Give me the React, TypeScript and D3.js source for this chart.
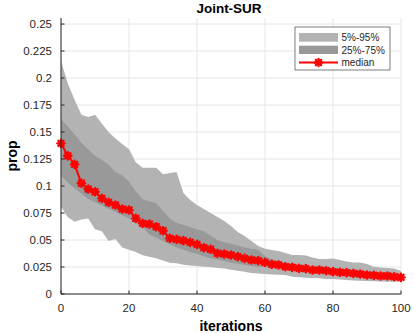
import React from "react";
import * as d3 from "d3";

const iterations = d3.range(0, 101, 2);
const median = [0.1395, 0.128, 0.12, 0.1025, 0.0972, 0.0947, 0.0886, 0.0849, 0.0824, 0.0787,
  0.0778, 0.07, 0.0654, 0.0648, 0.0623, 0.0586, 0.0515, 0.0506, 0.0494, 0.0478,
  0.046, 0.0429, 0.0414, 0.0377, 0.037, 0.0361, 0.0346, 0.033, 0.0315, 0.0309,
  0.0293, 0.0275, 0.0269, 0.0253, 0.0247, 0.0238, 0.0235, 0.0222, 0.0222, 0.0216,
  0.0207, 0.0201, 0.0198, 0.0191, 0.0185, 0.0176, 0.0173, 0.0167, 0.0167, 0.016, 0.0154];
const q95 = [0.216, 0.195, 0.18, 0.166, 0.164, 0.166, 0.158, 0.15, 0.144, 0.139,
  0.134, 0.122, 0.117, 0.117, 0.117, 0.111, 0.112, 0.113, 0.0935, 0.087,
  0.0824, 0.0787, 0.075, 0.0713, 0.0676, 0.063, 0.0574, 0.0537, 0.049, 0.0444,
  0.042, 0.0407, 0.0398, 0.038, 0.0361, 0.0361, 0.0356, 0.0338, 0.0324, 0.0324,
  0.0329, 0.0315, 0.0301, 0.0292, 0.0292, 0.0278, 0.0253, 0.0245, 0.0241, 0.0236, 0.0213];
const q75 = [0.162, 0.155, 0.148, 0.14, 0.134, 0.128, 0.124, 0.12, 0.113, 0.11,
  0.104, 0.095, 0.088, 0.086, 0.084, 0.077, 0.07, 0.066, 0.064, 0.062,
  0.06, 0.058, 0.054, 0.05, 0.048, 0.0465, 0.045, 0.043, 0.042, 0.041,
  0.035, 0.032, 0.031, 0.029, 0.028, 0.027, 0.026, 0.025, 0.0245, 0.024,
  0.023, 0.0225, 0.022, 0.0215, 0.021, 0.0202, 0.0198, 0.0192, 0.019, 0.0185, 0.018];
const q25 = [0.11, 0.103, 0.098, 0.093, 0.088, 0.085, 0.082, 0.079, 0.076, 0.073,
  0.07, 0.066, 0.062, 0.055, 0.052, 0.049, 0.046, 0.043, 0.041, 0.039,
  0.037, 0.035, 0.033, 0.032, 0.0305, 0.029, 0.028, 0.027, 0.026, 0.025,
  0.025, 0.0245, 0.024, 0.0228, 0.0222, 0.0213, 0.021, 0.0198, 0.0197, 0.0192,
  0.0183, 0.0177, 0.0174, 0.0167, 0.0162, 0.0153, 0.015, 0.0145, 0.0144, 0.0138, 0.0132];
const q05 = [0.081, 0.071, 0.067, 0.069, 0.07, 0.06, 0.058, 0.049, 0.051, 0.043,
  0.041, 0.039, 0.036, 0.0346, 0.033, 0.031, 0.029, 0.0285, 0.027, 0.0265,
  0.026, 0.0253, 0.025, 0.024, 0.0235, 0.0225, 0.0215, 0.0205, 0.0195, 0.019,
  0.0185, 0.018, 0.0178, 0.0176, 0.016, 0.0155, 0.015, 0.0148, 0.0145, 0.014,
  0.0138, 0.0135, 0.013, 0.0125, 0.0122, 0.012, 0.0118, 0.0115, 0.0114, 0.0114, 0.0114];

const xTicks = [0, 20, 40, 60, 80, 100];
const yTicks = [0, 0.025, 0.05, 0.075, 0.1, 0.125, 0.15, 0.175, 0.2, 0.225, 0.25];
const legendLabels = ["5%-95%", "25%-75%", "median"];
const title = "Joint-SUR";
const xLabel = "iterations";
const yLabel = "prop";

const FONT = "'Liberation Sans', Arial, Helvetica, sans-serif";
const LIGHT = "#b3b3b3";
const DARK = "#999999";
const AX = "#262626";

export default function App() {
  const W = 414, H = 333;
  const x = d3.scaleLinear().domain([0, 100]).range([61, 401]);
  const y = d3.scaleLinear().domain([0, 0.2556]).range([294, 18]);

  const idx = d3.range(iterations.length);
  const band = (lo: number[], hi: number[]) =>
    d3.area<number>().x(i => x(iterations[i])).y0(i => y(lo[i])).y1(i => y(hi[i]))(idx) || "";
  const line = d3.line<number>().x(i => x(iterations[i])).y(i => y(median[i]))(idx) || "";

  const star = (cx: number, cy: number, key: any) => {
    const r = 3.6, d = 2.6;
    return (
      <g key={key} stroke="#ff0000" strokeWidth={2.4} strokeLinecap="round">
        <line x1={cx - r} y1={cy} x2={cx + r} y2={cy} />
        <line x1={cx} y1={cy - r} x2={cx} y2={cy + r} />
        <line x1={cx - d} y1={cy - d} x2={cx + d} y2={cy + d} />
        <line x1={cx - d} y1={cy + d} x2={cx + d} y2={cy - d} />
      </g>
    );
  };

  const [x0, x1] = x.range();
  const [yb, yt] = y.range();

  const lgX = 295, lgY = 27, lgW = 95, lgH = 43;

  return (
    <svg width={W} height={H} style={{ position: "absolute", left: 0, top: 0 }} fontFamily={FONT}>
      <rect width={W} height={H} fill="#fff" />
      {xTicks.map(t => (
        <line key={"gx" + t} x1={x(t)} x2={x(t)} y1={yt} y2={yb} stroke="#e6e6e6" strokeWidth={1} />
      ))}
      {yTicks.map(t => (
        <line key={"gy" + t} x1={x0} x2={x1} y1={y(t)} y2={y(t)} stroke="#e6e6e6" strokeWidth={1} />
      ))}
      <path d={band(q05, q95)} fill={LIGHT} stroke="none" />
      <path d={band(q25, q75)} fill={DARK} stroke="none" />
      <path d={line} fill="none" stroke="#ff0000" strokeWidth={2} />
      {idx.map(i => star(x(iterations[i]), y(median[i]), i))}
      <line x1={x0} x2={x0} y1={yt} y2={yb} stroke={AX} strokeWidth={1} />
      <line x1={x0} x2={x1} y1={yb} y2={yb} stroke={AX} strokeWidth={1} />
      {yTicks.map(t => (
        <g key={"ty" + t}>
          <line x1={x0} x2={x0 + 3.5} y1={y(t)} y2={y(t)} stroke={AX} />
          <text x={52} y={y(t)} dy="0.35em" textAnchor="end" fontSize={11.5} fill={AX}>{String(t)}</text>
        </g>
      ))}
      {xTicks.map(t => (
        <g key={"tx" + t}>
          <line x1={x(t)} x2={x(t)} y1={yb} y2={yb - 3.5} stroke={AX} />
          <text x={x(t)} y={312} textAnchor="middle" fontSize={11.5} fill={AX}>{String(t)}</text>
        </g>
      ))}
      <text x={229} y={12.5} textAnchor="middle" fontSize={13.5} fontWeight="bold" fill="#000">{title}</text>
      <text x={231} y={331} textAnchor="middle" fontSize={14} fontWeight="bold" fill="#000">{xLabel}</text>
      <text transform={`translate(17,${(yt + yb) / 2}) rotate(-90)`} textAnchor="middle" fontSize={14} fontWeight="bold" fill="#000">{yLabel}</text>
      <rect x={lgX} y={lgY} width={lgW} height={lgH} fill="#fff" stroke={AX} strokeWidth={0.6} />
      <rect x={299} y={33} width={39} height={8.7} fill={LIGHT} />
      <rect x={299} y={45.7} width={39} height={8.3} fill={DARK} />
      <line x1={299} x2={338} y1={62.5} y2={62.5} stroke="#ff0000" strokeWidth={2} />
      {star(318.5, 62.5, "lg")}
      {legendLabels.map((l, i) => (
        <text key={l} x={341.5} y={37.5 + i * 12.6} dy="0.35em" fontSize={10} fill={AX}>{l}</text>
      ))}
    </svg>
  );
}
